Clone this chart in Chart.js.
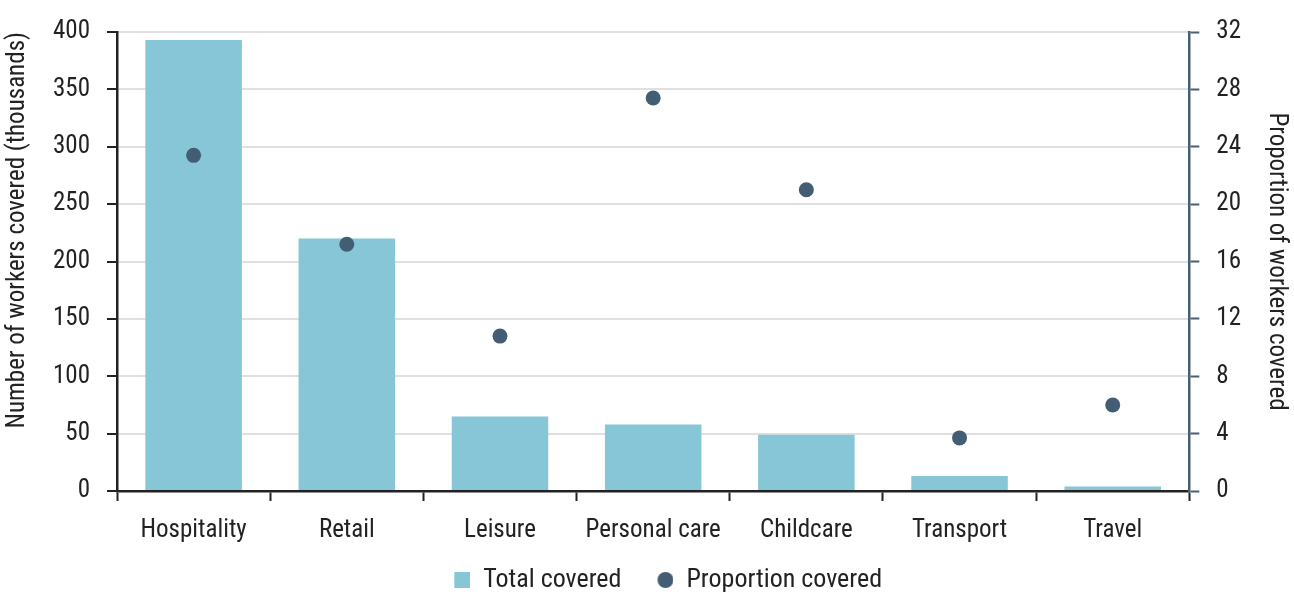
<!DOCTYPE html>
<html>
<head>
<meta charset="utf-8">
<script src="https://cdn.jsdelivr.net/npm/chart.js@4"></script>
<style>
  html, body { margin: 0; padding: 0; background: #ffffff; }
  #wrap { width: 1294px; height: 592px; position: relative; }
</style>
</head>
<body>
<div id="wrap"><canvas id="chart"></canvas></div>
<script>
// data
const categories = ["Hospitality", "Retail", "Leisure", "Personal care", "Childcare", "Transport", "Travel"];
const totalCovered = [393, 220, 65, 58, 49, 13, 4];
const proportionCovered = [23.4, 17.2, 10.8, 27.4, 21.0, 3.7, 6.0];
const leftTicks = [0, 50, 100, 150, 200, 250, 300, 350, 400];
const rightTicks = [0, 4, 8, 12, 16, 20, 24, 28, 32];

const FONT = "'Liberation Sans Narrow', 'Roboto Condensed', 'Roboto', sans-serif";
const TEXT = "#222222";
const SLATE = "#475f73";
const BAR = "#86c6d6";
const DOT = "#435e74";

Chart.defaults.font.family = FONT;
Chart.defaults.color = TEXT;

// legend markers: blank space on the left, marker at the right end
const MARK_W = 46;
function legendMarker(kind, color) {
    const c = document.createElement("canvas");
    c.width = MARK_W;
    c.height = 16;
    const g = c.getContext("2d");
    g.fillStyle = color;
    if (kind === "rect") {
        g.fillRect(MARK_W - 16, 0, 16, 16);
    } else {
        g.beginPath();
        g.arc(MARK_W - 8, 8, 8, 0, Math.PI * 2);
        g.fill();
    }
    return c;
}
const markers = [legendMarker("rect", BAR), legendMarker("circle", DOT)];

new Chart(document.getElementById("chart"), {
    data: {
        labels: categories,
        datasets: [
            {
                type: "bar",
                label: "Total covered",
                data: totalCovered,
                backgroundColor: BAR,
                borderWidth: 0,
                categoryPercentage: 1,
                barPercentage: 0.63,
                yAxisID: "y",
                order: 2
            },
            {
                type: "line",
                label: "Proportion covered",
                data: proportionCovered,
                showLine: false,
                pointRadius: 7.5,
                pointBackgroundColor: DOT,
                pointBorderWidth: 0,
                backgroundColor: DOT,
                borderColor: DOT,
                yAxisID: "y1",
                order: 1
            }
        ]
    },
    options: {
        responsive: true,
        maintainAspectRatio: false,
        animation: false,
        layout: { padding: { top: 31, left: 0, right: 0, bottom: -11 } },
        plugins: {
            legend: {
                position: "bottom",
                fullSize: false,
                labels: {
                    usePointStyle: true,
                    pointStyleWidth: MARK_W,
                    boxWidth: 16,
                    boxHeight: 16,
                    padding: 6,
                    font: { size: 26 },
                    color: TEXT,
                    generateLabels: chart => {
                        const items = Chart.defaults.plugins.legend.labels.generateLabels(chart);
                        items.sort((a, b) => a.datasetIndex - b.datasetIndex);
                        items.forEach(it => {
                            it.pointStyle = markers[it.datasetIndex];
                            it.lineWidth = 0;
                        });
                        return items;
                    }
                }
            },
            tooltip: { enabled: false }
        },
        scales: {
            x: {
                offset: true,
                grid: {
                    offset: true,
                    drawOnChartArea: false,
                    drawTicks: true,
                    tickLength: 10,
                    tickColor: TEXT,
                    tickWidth: 2
                },
                border: { color: TEXT, width: 2.5 },
                ticks: { font: { size: 25 }, color: TEXT, padding: 15 }
            },
            y: {
                position: "left",
                min: 0,
                max: 400,
                afterBuildTicks: axis => { axis.ticks = leftTicks.map(v => ({ value: v })); },
                grid: {
                    color: "#e0e0e0",
                    lineWidth: 2,
                    tickColor: TEXT,
                    tickLength: 10,
                    tickWidth: 2
                },
                border: { color: TEXT, width: 2.5 },
                ticks: { font: { size: 25 }, color: TEXT, padding: 17 },
                title: {
                    display: true,
                    align: "end",
                    text: "Number of workers covered (thousands)",
                    font: { size: 25 },
                    color: TEXT,
                    padding: 3
                }
            },
            y1: {
                position: "right",
                min: 0,
                max: 32,
                afterBuildTicks: axis => { axis.ticks = rightTicks.map(v => ({ value: v })); },
                grid: {
                    drawOnChartArea: false,
                    tickColor: SLATE,
                    tickLength: 10,
                    tickWidth: 2
                },
                border: { color: SLATE, width: 2.5 },
                ticks: { font: { size: 25 }, color: TEXT, padding: 17 },
                title: {
                    display: true,
                    text: "Proportion of workers covered",
                    font: { size: 25 },
                    color: TEXT,
                    padding: 3
                }
            }
        }
    }
});
</script>
</body>
</html>
